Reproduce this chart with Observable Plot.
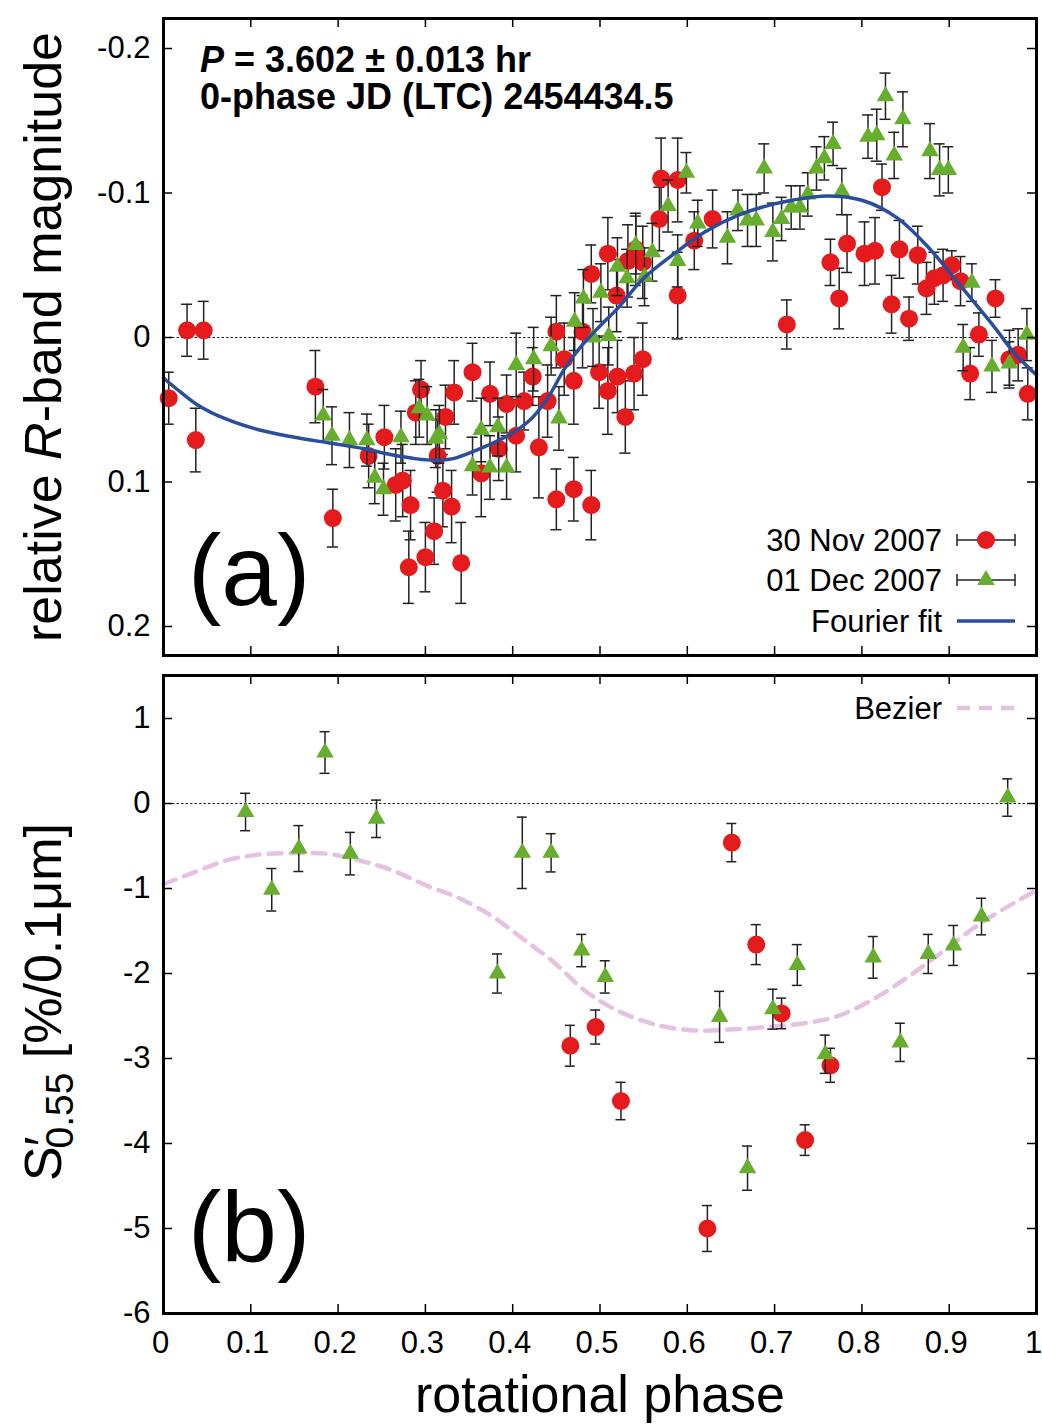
<!DOCTYPE html>
<html>
<head>
<meta charset="utf-8">
<script src="https://cdn.jsdelivr.net/npm/d3@7"></script>
<script src="https://cdn.jsdelivr.net/npm/@observablehq/plot@0.6"></script>
<style>
html, body { margin: 0; padding: 0; background: #fff; }
#chart { width: 1042px; height: 1425px; overflow: hidden; }
#chart svg { display: block; }
</style>
</head>
<body>
<div id="chart"></div>
<script>
// ---------- Panel (a): relative R-band magnitude ----------
const redPhaseA = [0.006,0.027,0.046,0.037,0.174,0.194,0.235,0.253,0.266,0.274,
  0.283,0.295,0.289,0.323,0.333,0.314,0.320,0.330,0.310,0.300,
  0.281,0.341,0.354,0.374,0.384,0.364,0.393,0.404,0.413,0.423,
  0.440,0.430,0.450,0.470,0.490,0.450,0.459,0.470,0.480,0.499,
  0.509,0.490,0.509,0.532,0.541,0.549,0.519,0.549,0.520,0.539,
  0.570,0.589,0.568,0.629,0.608,0.589,0.714,0.823,0.764,0.783,
  0.774,0.803,0.815,0.843,0.864,0.834,0.854,0.874,0.883,0.893,
  0.903,0.913,0.953,0.934,0.924,0.979,0.969,0.990,0.529];
const redMagA = [0.042,-0.005,-0.005,0.071,0.034,0.125,0.082,0.069,0.102,0.099,
  0.116,0.036,0.052,0.055,0.038,0.082,0.106,0.117,0.134,0.152,
  0.159,0.156,0.024,0.039,0.077,0.094,0.046,0.068,0.044,0.027,
  0.044,0.076,0.112,0.105,0.116,-0.004,0.015,0.030,-0.004,0.024,
  0.037,-0.044,-0.058,-0.053,-0.061,-0.052,-0.029,0.015,0.027,0.025,
  -0.110,-0.109,-0.082,-0.082,-0.067,-0.029,-0.009,-0.104,-0.052,-0.065,
  -0.027,-0.058,-0.060,-0.061,-0.057,-0.023,-0.013,-0.034,-0.041,-0.043,
  -0.050,-0.039,-0.027,-0.002,0.025,0.012,0.015,0.039,0.055];
const redErrA = [0.018,0.018,0.02,0.022,0.025,0.02,0.022,0.022,0.025,0.025,
  0.024,0.02,0.022,0.022,0.022,0.025,0.025,0.025,0.023,0.024,
  0.025,0.028,0.02,0.022,0.022,0.03,0.02,0.025,0.02,0.02,
  0.025,0.035,0.021,0.022,0.024,0.025,0.025,0.03,0.025,0.025,
  0.03,0.02,0.025,0.025,0.025,0.025,0.025,0.025,0.025,0.025,
  0.028,0.029,0.022,0.02,0.02,0.03,0.017,0.016,0.016,0.02,
  0.021,0.022,0.023,0.02,0.02,0.02,0.015,0.018,0.018,0.018,
  0.01,0.017,0.013,0.015,0.018,0.018,0.02,0.018,0.025];

const greenPhaseA = [0.183,0.193,0.213,0.233,0.242,0.252,0.272,0.293,0.302,0.316,
  0.312,0.364,0.383,0.354,0.374,0.393,0.404,0.424,0.453,0.444,
  0.471,0.481,0.501,0.492,0.510,0.520,0.531,0.551,0.541,0.560,
  0.599,0.578,0.612,0.589,0.688,0.658,0.669,0.679,0.646,0.698,
  0.708,0.719,0.729,0.738,0.748,0.757,0.767,0.777,0.807,0.817,
  0.827,0.837,0.847,0.878,0.889,0.899,0.926,0.916,0.949,0.969,0.989];
const greenMagA = [0.054,0.068,0.071,0.071,0.097,0.105,0.069,0.049,0.054,0.067,
  0.070,0.064,0.062,0.089,0.090,0.090,0.019,0.015,0.056,0.006,
  -0.011,-0.027,-0.031,0.000,-0.001,-0.049,-0.041,-0.042,-0.064,-0.059,
  -0.114,-0.091,-0.079,-0.053,-0.117,-0.088,-0.081,-0.081,-0.069,-0.073,
  -0.082,-0.090,-0.090,-0.099,-0.117,-0.124,-0.134,-0.101,-0.139,-0.140,
  -0.167,-0.126,-0.151,-0.129,-0.116,-0.116,-0.038,0.007,0.020,0.018,-0.002];
const greenErrA = [0.018,0.02,0.019,0.018,0.018,0.018,0.018,0.02,0.02,0.02,
  0.02,0.022,0.02,0.02,0.022,0.022,0.022,0.022,0.022,0.02,
  0.02,0.02,0.02,0.02,0.02,0.02,0.02,0.02,0.02,0.02,
  0.014,0.018,0.016,0.018,0.017,0.014,0.018,0.018,0.018,0.02,
  0.015,0.015,0.015,0.015,0.015,0.015,0.015,0.016,0.015,0.018,
  0.016,0.016,0.019,0.019,0.018,0.016,0.013,0.016,0.018,0.015,0.018];

const fourierPhase = [0,0.02,0.04,0.07,0.11,0.15,0.19,0.23,0.26,0.29,0.31,0.33,0.35,0.37,
  0.40,0.42,0.44,0.46,0.48,0.50,0.52,0.55,0.585,0.62,0.66,0.70,0.72,0.76,0.80,0.84,
  0.876,0.914,0.952,0.975,1.0];
const fourierMag = [0.028,0.038,0.047,0.056,0.064,0.069,0.073,0.077,0.081,0.084,0.085,0.084,0.080,0.075,
  0.066,0.057,0.042,0.021,0.005,-0.008,-0.020,-0.041,-0.058,-0.073,-0.085,-0.0925,-0.095,-0.098,-0.095,-0.083,
  -0.0625,-0.035,-0.007,0.011,0.026];

// ---------- Panel (b): spectral slope S'0.55 ----------
const greenPhaseB = [0.094,0.124,0.155,0.185,0.214,0.244,0.3825,0.411,0.444,0.479,0.506,
  0.637,0.669,0.698,0.726,0.758,0.813,0.844,0.876,0.905,0.937,0.967];
const greenSB = [-0.10,-1.015,-0.53,0.60,-0.59,-0.18,-2.00,-0.58,-0.58,-1.73,-2.04,
  -2.51,-4.29,-2.42,-1.90,-2.95,-1.81,-2.81,-1.77,-1.67,-1.33,0.07];
const greenErrB = [0.22,0.25,0.27,0.245,0.25,0.22,0.23,0.42,0.225,0.19,0.19,
  0.30,0.26,0.235,0.24,0.225,0.245,0.225,0.23,0.235,0.215,0.22];

const redPhaseB = [0.466,0.495,0.524,0.623,0.651,0.679,0.708,0.735,0.764];
const redSB = [-2.85,-2.63,-3.50,-5.00,-0.46,-1.66,-2.47,-3.96,-3.08];
const redErrB = [0.24,0.2,0.22,0.27,0.225,0.235,0.18,0.18,0.2];

const bezierPhase = [0,0.035,0.072,0.11,0.148,0.186,0.225,0.263,0.30,0.34,0.377,0.41,0.445,
  0.485,0.525,0.567,0.607,0.648,0.69,0.73,0.77,0.81,0.853,0.894,0.935,0.976,1.0];
const bezierS = [-0.95,-0.81,-0.67,-0.60,-0.585,-0.59,-0.67,-0.79,-0.96,-1.12,-1.33,-1.58,-1.85,
  -2.22,-2.46,-2.61,-2.67,-2.66,-2.63,-2.59,-2.51,-2.32,-2.04,-1.73,-1.415,-1.16,-1.02];

// ---------- ticks ----------
const phaseTicks = [0, 0.1, 0.2, 0.3, 0.4, 0.5, 0.6, 0.7, 0.8, 0.9, 1];
const magTicks = [-0.2, -0.1, 0, 0.1, 0.2];
const slopeTicks = [1, 0, -1, -2, -3, -4, -5, -6];

// ---------- tables ----------
const redA = redPhaseA.map((p, i) => ({phase: p, v: redMagA[i], err: redErrA[i]}));
const greenA = greenPhaseA.map((p, i) => ({phase: p, v: greenMagA[i], err: greenErrA[i]}));
const fourierA = fourierPhase.map((p, i) => ({phase: p, v: fourierMag[i]}));
const redB = redPhaseB.map((p, i) => ({phase: p, v: redSB[i], err: redErrB[i]}));
const greenB = greenPhaseB.map((p, i) => ({phase: p, v: greenSB[i], err: greenErrB[i]}));
const bezierB = bezierPhase.map((p, i) => ({phase: p, v: bezierS[i]}));

// ---------- styling ----------
const FONT = "'Liberation Sans', Arial, Helvetica, sans-serif";
const RED = "#e41a1c", GREEN = "#67ad2e", BLUE = "#2a4d9e", PINK = "#e6c2e2", ERR = "#222";
const W = 1042, ML = 163, MR = 6;
const plotW = W - ML - MR;
const xDom = [0, 1];
const TICK = 9;

function errorBars(data, capHalfPx) {
  const cap = capHalfPx * (xDom[1] - xDom[0]) / plotW;
  return [
    Plot.ruleX(data, {x: "phase", y1: d => d.v - d.err, y2: d => d.v + d.err, stroke: ERR, strokeWidth: 1.5}),
    Plot.ruleY(data, {y: d => d.v - d.err, x1: d => d.phase - cap, x2: d => d.phase + cap, stroke: ERR, strokeWidth: 1.5}),
    Plot.ruleY(data, {y: d => d.v + d.err, x1: d => d.phase - cap, x2: d => d.phase + cap, stroke: ERR, strokeWidth: 1.5})
  ];
}
function frameTicks(yTicks, yDom, innerH) {
  const dx = TICK * (xDom[1] - xDom[0]) / plotW;
  const dy = TICK * (yDom[1] - yDom[0]) / innerH;
  const o = {stroke: "black", strokeWidth: 1.5};
  return [
    Plot.ruleX(phaseTicks, {x: d => d, y1: yDom[0], y2: yDom[0] + dy, ...o}),
    Plot.ruleX(phaseTicks, {x: d => d, y1: yDom[1], y2: yDom[1] - dy, ...o}),
    Plot.ruleY(yTicks, {y: d => d, x1: xDom[0], x2: xDom[0] + dx, ...o}),
    Plot.ruleY(yTicks, {y: d => d, x1: xDom[1], x2: xDom[1] - dx, ...o})
  ];
}

// ---------- Panel (a) ----------
const HA = 660, MTA = 18, MBA = 5;
const yDomA = [0.22007, -0.22076];
const plotA = Plot.plot({
  width: W, height: HA,
  marginLeft: ML, marginRight: MR, marginTop: MTA, marginBottom: MBA,
  x: {domain: xDom, axis: null},
  y: {domain: yDomA},
  style: {fontFamily: FONT, fontSize: "31px", background: "white", overflow: "visible", color: "black"},
  marks: [
    Plot.ruleY([0], {stroke: "#222", strokeWidth: 1, strokeDasharray: "2.5,2"}),
    ...errorBars(redA, 5.5),
    Plot.dot(redA, {x: "phase", y: "v", r: 9, fill: RED, stroke: null}),
    ...errorBars(greenA, 5.5),
    Plot.dot(greenA, {x: "phase", y: "v", r: 6.5, symbol: "triangle", fill: GREEN, stroke: null}),
    Plot.line(fourierA, {x: "phase", y: "v", curve: "catmull-rom", stroke: BLUE, strokeWidth: 3.5}),
    ...frameTicks(magTicks, yDomA, HA - MTA - MBA),
    Plot.axisY(magTicks, {anchor: "left", tickSize: 0, tickPadding: 13, label: null, tickFormat: d => String(d), fontSize: 31, fontFamily: FONT}),
    Plot.frame({stroke: "black", strokeWidth: 3})
  ]
});

// ---------- Panel (b) ----------
const HB = 765, MTB = 15, MBB = 112;
const yDomB = [-6, 1.506];
const plotB = Plot.plot({
  width: W, height: HB,
  marginLeft: ML, marginRight: MR, marginTop: MTB, marginBottom: MBB,
  x: {domain: xDom},
  y: {domain: yDomB},
  style: {fontFamily: FONT, fontSize: "31px", background: "white", overflow: "visible", color: "black"},
  marks: [
    Plot.ruleY([0], {stroke: "#222", strokeWidth: 1, strokeDasharray: "2.5,2"}),
    Plot.line(bezierB, {x: "phase", y: "v", curve: "catmull-rom", stroke: PINK, strokeWidth: 4.5, strokeDasharray: "13,9"}),
    ...errorBars(redB, 5),
    Plot.dot(redB, {x: "phase", y: "v", r: 9, fill: RED, stroke: null}),
    ...errorBars(greenB, 5),
    Plot.dot(greenB, {x: "phase", y: "v", r: 6.5, symbol: "triangle", fill: GREEN, stroke: null}),
    ...frameTicks(slopeTicks, yDomB, HB - MTB - MBB),
    Plot.axisY(slopeTicks, {anchor: "left", tickSize: 0, tickPadding: 13, label: null, tickFormat: d => String(d), fontSize: 31, fontFamily: FONT}),
    Plot.axisX(phaseTicks, {anchor: "bottom", tickSize: 0, tickPadding: 17, dx: -3, label: null, tickFormat: d => String(d), fontSize: 31, fontFamily: FONT}),
    Plot.frame({stroke: "black", strokeWidth: 3})
  ]
});

const chart = document.getElementById("chart");
chart.appendChild(plotA);
chart.appendChild(plotB);

// ---------- texts and legends ----------
function txt(sel, x, y, size, anchor) {
  return sel.append("text").attr("x", x).attr("y", y).attr("font-size", size)
    .attr("font-family", FONT).attr("fill", "black").attr("text-anchor", anchor || "start");
}
const sa = d3.select(plotA);
// y label (a)
const ya = sa.append("text").attr("transform", "translate(61,337) rotate(-90)")
  .attr("text-anchor", "middle").attr("font-size", 52).attr("font-family", FONT).attr("fill", "black");
ya.append("tspan").text("relative ");
ya.append("tspan").attr("font-style", "italic").text("R");
ya.append("tspan").text("-band magnitude");
// annotation
const ann1 = txt(sa, 200, 72, 36).attr("font-weight", "bold");
ann1.append("tspan").attr("font-style", "italic").text("P");
ann1.append("tspan").text(" = 3.602 ± 0.013 hr");
txt(sa, 200, 109, 36).attr("font-weight", "bold").text("0-phase JD (LTC) 2454434.5");
// panel letter
txt(sa, 188, 605, 100).text("(a)");
// legend (a)
const legA = [
  {label: "30 Nov 2007", y: 540, kind: "red"},
  {label: "01 Dec 2007", y: 580, kind: "green"},
  {label: "Fourier fit", y: 621, kind: "line"}
];
legA.forEach(it => {
  txt(sa, 942, it.y + 11, 31, "end").text(it.label);
  if (it.kind === "line") {
    sa.append("line").attr("x1", 957).attr("x2", 1015).attr("y1", it.y).attr("y2", it.y)
      .attr("stroke", BLUE).attr("stroke-width", 3.5);
  } else {
    const g = sa.append("g").attr("stroke", ERR).attr("stroke-width", 1.5);
    g.append("line").attr("x1", 957).attr("x2", 1015).attr("y1", it.y).attr("y2", it.y);
    g.append("line").attr("x1", 957).attr("x2", 957).attr("y1", it.y - 6).attr("y2", it.y + 6);
    g.append("line").attr("x1", 1015).attr("x2", 1015).attr("y1", it.y - 6).attr("y2", it.y + 6);
    if (it.kind === "red") {
      sa.append("circle").attr("cx", 986).attr("cy", it.y).attr("r", 9).attr("fill", RED);
    } else {
      sa.append("path").attr("transform", `translate(986,${it.y})`)
        .attr("d", d3.symbol(d3.symbolTriangle, Math.PI * 6.5 * 6.5)()).attr("fill", GREEN);
    }
  }
});

const sb = d3.select(plotB);
// y label (b)
const yb = sb.append("text").attr("transform", "translate(61,342) rotate(-90)")
  .attr("text-anchor", "middle").attr("font-size", 52).attr("font-family", FONT).attr("fill", "black");
yb.append("tspan").text("S");
yb.append("tspan").text("′");
yb.append("tspan").attr("dx", -12).attr("dy", 12).attr("font-size", 39).text("0.55");
yb.append("tspan").attr("dy", -12).text(" [%/0.1μm]");
// x label
txt(sb, 600, 752, 52, "middle").text("rotational phase");
// panel letter
txt(sb, 188, 602, 100).text("(b)");
// legend (b)
txt(sb, 942, 59, 31, "end").text("Bezier");
sb.append("line").attr("x1", 957).attr("x2", 1015).attr("y1", 48).attr("y2", 48)
  .attr("stroke", PINK).attr("stroke-width", 4.5).attr("stroke-dasharray", "13,9");
</script>
</body>
</html>
